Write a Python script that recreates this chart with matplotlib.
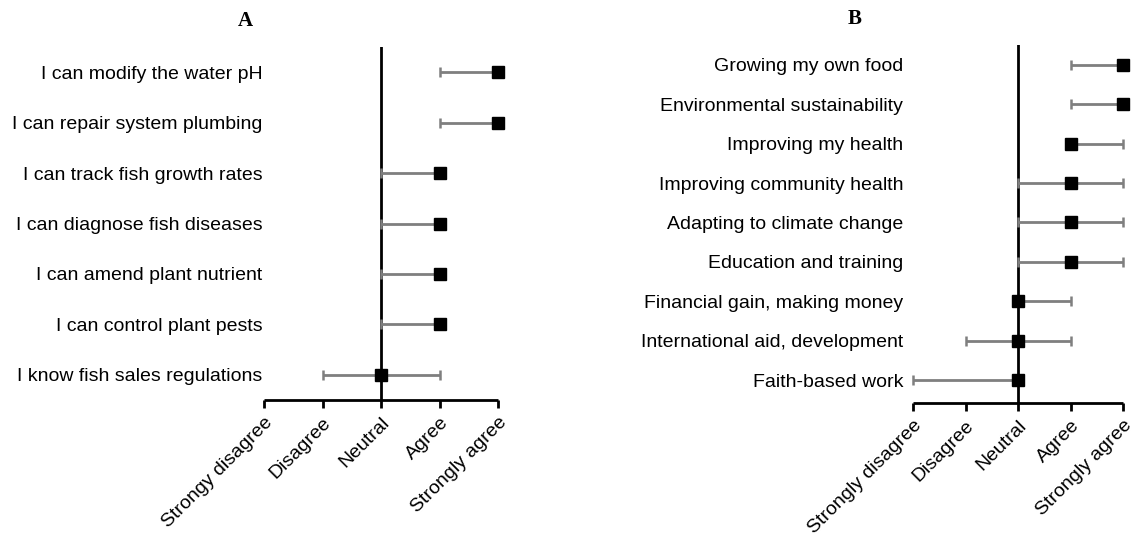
import numpy as np
import matplotlib.pyplot as plt

plt.rcParams['font.family'] = ['Liberation Sans', 'DejaVu Sans']

# panel A: skills
labels_a = ['I can modify the water pH', 'I can repair system plumbing',
            'I can track fish growth rates', 'I can diagnose fish diseases',
            'I can amend plant nutrient', 'I can control plant pests',
            'I know fish sales regulations']
median_a = [2, 2, 1, 1, 1, 1, 0]
low_a = [1, 1, 0, 0, 0, 0, -1]
high_a = [2, 2, 1, 1, 1, 1, 1]
ticks_a = ['Strongy disagree', 'Disagree', 'Neutral', 'Agree', 'Strongly agree']

# panel B: motivations
labels_b = ['Growing my own food', 'Environmental sustainability',
            'Improving my health', 'Improving community health',
            'Adapting to climate change', 'Education and training',
            'Financial gain, making money', 'International aid, development',
            'Faith-based work']
median_b = [2, 2, 1, 1, 1, 1, 0, 0, 0]
low_b = [1, 1, 1, 0, 0, 0, 0, -1, -2]
high_b = [2, 2, 2, 2, 2, 2, 1, 1, 0]
ticks_b = ['Strongly disagree', 'Disagree', 'Neutral', 'Agree', 'Strongly agree']

scale = [-2, -1, 0, 1, 2]


def draw_panel(ax, labels, med, lo, hi, ticks, ylim, pad):
    n = len(labels)
    y = np.arange(n)[::-1]
    med = np.array(med)
    xerr = [med - np.array(lo), np.array(hi) - med]
    ax.axvline(0, color='black', lw=2, zorder=1)
    eb = ax.errorbar(med, y, xerr=xerr, fmt='none', ecolor='#7f7f7f', elinewidth=2,
                     capsize=3.5, capthick=1.8, zorder=2)
    for art in eb.lines[1]:
        art.set_clip_on(False)
    for art in eb.lines[2]:
        art.set_clip_on(False)
    ax.plot(med, y, 's', color='black', ms=8.5, zorder=3, clip_on=False)
    ax.set_xlim(-2, 2)
    ax.set_ylim(*ylim)
    ax.set_yticks(y)
    ax.set_yticklabels(labels, fontsize=14)
    ax.tick_params(axis='y', length=0, pad=pad)
    ax.set_xticks(scale)
    ax.set_xticklabels(ticks, rotation=45, ha='right', rotation_mode='anchor', fontsize=14)
    ax.tick_params(axis='x', length=6, width=2, direction='out', pad=4)
    for s in ['top', 'right', 'left']:
        ax.spines[s].set_visible(False)
    ax.spines['bottom'].set_linewidth(2)
    ax.spines['bottom'].set_capstyle('butt')


fig = plt.figure(figsize=(11.4, 5.34), dpi=100)
ax_a = fig.add_axes([0.2316, 0.2509, 0.2053, 0.661])
ax_b = fig.add_axes([0.8009, 0.2453, 0.1842, 0.6704])

draw_panel(ax_a, labels_a, median_a, low_a, high_a, ticks_a, (-0.5, 6.5), 1)
draw_panel(ax_b, labels_b, median_b, low_b, high_b, ticks_b, (-0.58, 8.5), 7)

fig.text(245 / 1140, 1 - 21 / 534, 'A', family='Liberation Serif', weight='bold',
         fontsize=15, ha='center', va='center')
fig.text(855 / 1140, 1 - 19 / 534, 'B', family='Liberation Serif', weight='bold',
         fontsize=15, ha='center', va='center')

fig.savefig('out.png', dpi=100)
